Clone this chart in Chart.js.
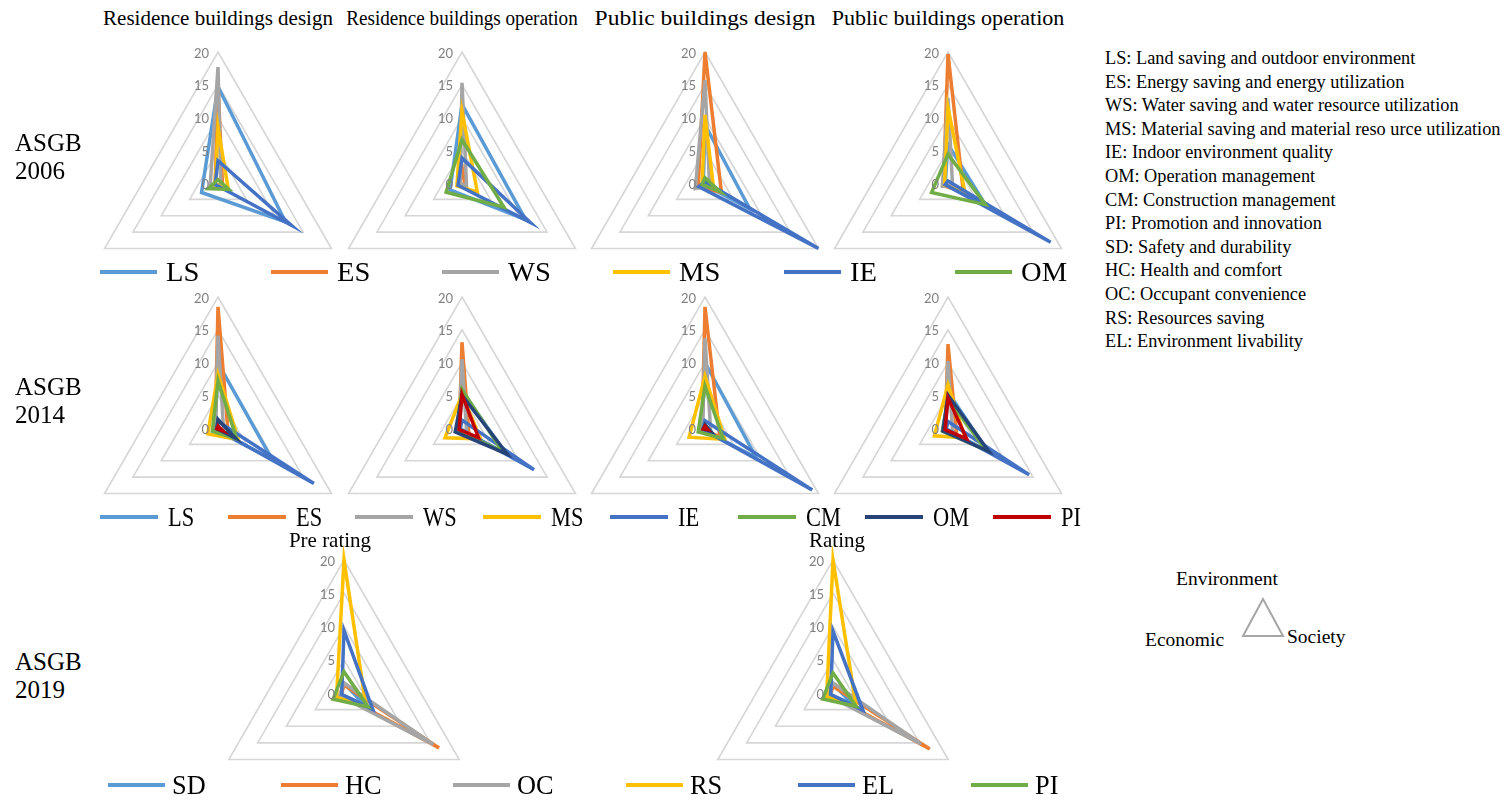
<!DOCTYPE html>
<html>
<head>
<meta charset="utf-8">
<script src="https://cdn.jsdelivr.net/npm/chart.js@4.4.1/dist/chart.umd.min.js"></script>
<style>
  html, body { margin: 0; padding: 0; background: #fff; }
  #stage { position: relative; width: 1511px; height: 806px; overflow: hidden; font-family: "Liberation Serif", "Times New Roman", serif; color: #000; }
  .abs { position: absolute; white-space: nowrap; }
  .title { font-size: 21px; }
  .year { font-size: 25px; line-height: 29px; }
  .key { font-size: 18.3px; line-height: 20px; }
  .orient { font-size: 19.5px; line-height: 20px; }
  .legLine { position: absolute; height: 4px; }
  .legText { position: absolute; font-size: 28px; line-height: 28px; transform-origin: left center; }
  canvas { position: absolute; }
</style>
</head>
<body>
<div id="stage"></div>
<script>
// ---------------- DATA ----------------
const axisLabels = ['Environment', 'Society', 'Economic'];
const tickValues = [0, 5, 10, 15, 20];

const series2006 = ['LS', 'ES', 'WS', 'MS', 'IE', 'OM'];
const series2014 = ['LS', 'ES', 'WS', 'MS', 'IE', 'CM', 'OM', 'PI'];
const series2019 = ['SD', 'HC', 'OC', 'RS', 'EL', 'PI'];

// values per series: [Environment, Society, Economic]
const residenceDesign2006    = [[14.7, 11.9, 2.9], [15, 0.8, 0.5], [17.7, 0.5, 1.4], [8.5, 1.8, 0.5], [3.4, 12.9, 0.5], [0.5, 1.9, 1.7]];
const residenceOperation2006 = [[12, 11.2, 2.1], [2.5, 0.5, 0.4], [15.3, 0.8, 0.3], [10.9, 2.7, 0.9], [3.8, 12, 0.7], [6.6, 7.4, 2.8]];
const publicDesign2006       = [[8.9, 7.9, 0.3], [20, 2.9, 1.2], [15.7, 0.8, 1.7], [10.4, 1.5, 0.5], [0.2, 20, 1.1], [0.8, 2.6, 0.5]];
const publicOperation2006    = [[5.9, 6.6, 0.5], [19.7, 2.7, 0.8], [13, 0.8, 1.0], [11.5, 3, 0.6], [0.3, 18.1, 0.5], [4.4, 6.6, 2.9]];

const residenceDesign2014    = [[9.9, 9.5, 0.5], [18.5, 1.8, 0.5], [14.1, 1, 0.5], [8.2, 3.6, 1.8], [1, 16.9, 0.3], [7.2, 3.3, 1.0], [1.3, 3, 0.2], [0.3, 0.8, 0.2]];
const residenceOperation2014 = [[5.6, 7.7, 0.5], [13.1, 1.2, 0.5], [10.5, 0.8, 0.5], [5.1, 3.3, 3], [1.2, 12.7, 0.3], [5.9, 7.1, 0.8], [5, 8, 1.2], [5.1, 2.9, 0.5]];
const publicDesign2014       = [[10, 9, 0.5], [18.5, 2.6, 0.5], [13.7, 1, 0.5], [7.9, 3.5, 2.8], [1.1, 18.9, 0.4], [6.4, 3.2, 1.2], [0.5, 1, 0.3], [0.3, 0.5, 0.3]];
const publicOperation2014    = [[5.5, 6.9, 0.5], [12.8, 1.5, 0.5], [10.2, 0.8, 0.5], [6.6, 3, 2.4], [1, 14.3, 0.3], [4.5, 6.6, 1], [5, 7.2, 0.9], [4.6, 3.3, 0.5]];

const preRating2019 = [[1.5, 3.5, 0.5], [1.2, 16.5, 0.5], [1.5, 15.5, 0.8], [20, 3.8, 1.3], [9.4, 5, 0.4], [3.2, 4.2, 1.9]];
const rating2019    = [[1.3, 3.5, 0.5], [1, 16.8, 0.5], [1.5, 15.3, 0.8], [20, 4, 1.1], [9.3, 5.2, 0.4], [3, 4, 1.8]];

const titles2006 = ['Residence buildings design', 'Residence buildings operation', 'Public buildings design', 'Public buildings operation'];
const titles2019 = ['Pre rating', 'Rating'];
const yearLabels = ['ASGB\n2006', 'ASGB\n2014', 'ASGB\n2019'];

const abbreviationKey = [
  'LS: Land saving and outdoor environment',
  'ES: Energy saving and energy utilization',
  'WS: Water saving and water resource utilization',
  'MS: Material saving and material reso urce utilization',
  'IE: Indoor environment quality',
  'OM: Operation management',
  'CM: Construction management',
  'PI: Promotion and innovation',
  'SD: Safety and durability',
  'HC: Health and comfort',
  'OC: Occupant convenience',
  'RS: Resources saving',
  'EL: Environment livability'
];

// ---------------- STYLES ----------------
const colors2006 = ['#5B9BD5', '#ED7D31', '#A5A5A5', '#FFC000', '#4472C4', '#70AD47'];
const colors2014 = ['#5B9BD5', '#ED7D31', '#A5A5A5', '#FFC000', '#4472C4', '#70AD47', '#264478', '#C00000'];
const colors2019 = ['#5B9BD5', '#ED7D31', '#A5A5A5', '#FFC000', '#4472C4', '#70AD47'];
const titleScale2006 = [1.0, 0.91, 1.12, 1.05];

const stage = document.getElementById('stage');

function addText(cls, text, left, top, extraStyle) {
  const d = document.createElement('div');
  d.className = 'abs ' + cls;
  d.textContent = text;
  d.style.left = left + 'px';
  d.style.top = top + 'px';
  if (extraStyle) Object.assign(d.style, extraStyle);
  stage.appendChild(d);
  return d;
}

const leftTickPlugin = {
  id: 'leftTicks',
  afterDraw(chart) {
    const s = chart.scales.r;
    const ctx = chart.ctx;
    ctx.save();
    ctx.font = '13px Lato';
    ctx.fillStyle = '#808080';
    ctx.textAlign = 'right';
    ctx.textBaseline = 'middle';
    s.ticks.forEach(t => {
      const d = s.getDistanceFromCenterForValue(t.value);
      ctx.fillText(String(t.value), s.xCenter - 9, s.yCenter - d + 1.5);
    });
    ctx.restore();
  }
};

function radar(cx, cy, r, names, values, colors) {
  const pad = 14;
  const size = 2 * r + 2 * pad;
  const c = document.createElement('canvas');
  c.width = size; c.height = size;
  c.style.left = (cx - r - pad) + 'px';
  c.style.top = (cy - r - pad) + 'px';
  stage.appendChild(c);
  const n = names.length;
  new Chart(c, {
    type: 'radar',
    data: {
      labels: axisLabels,
      datasets: names.map((nm, i) => ({
        label: nm,
        data: values[i],
        borderColor: colors[i],
        backgroundColor: 'rgba(0,0,0,0)',
        borderWidth: 3.5,
        pointRadius: 0,
        pointHoverRadius: 0,
        fill: false,
        tension: 0,
        clip: false,
        order: n - i,
        borderJoinStyle: 'miter'
      }))
    },
    options: {
      responsive: false,
      animation: false,
      devicePixelRatio: 1,
      layout: { padding: pad },
      plugins: { legend: { display: false }, tooltip: { enabled: false } },
      scales: {
        r: {
          min: tickValues[0],
          max: tickValues[tickValues.length - 1],
          ticks: { stepSize: tickValues[1] - tickValues[0], display: false },
          angleLines: { display: false },
          grid: { color: '#d6d6d6', lineWidth: 1.6 },
          pointLabels: { display: false }
        }
      }
    },
    plugins: [leftTickPlugin]
  });
}

function legendRow(names, colors, x0, step, y, lineW, gap, sx) {
  names.forEach((nm, i) => {
    const x = x0 + i * step;
    const l = document.createElement('div');
    l.className = 'legLine';
    l.style.left = x + 'px';
    l.style.top = (y - 2) + 'px';
    l.style.width = lineW + 'px';
    l.style.background = colors[i];
    stage.appendChild(l);
    const t = document.createElement('div');
    t.className = 'legText';
    t.textContent = nm;
    t.style.left = (x + lineW + gap) + 'px';
    t.style.top = (y - 14) + 'px';
    t.style.transform = 'scaleX(' + sx + ')';
    stage.appendChild(t);
  });
}

// ---------------- LAYOUT ----------------
const row1X = [218, 462, 705, 948];
titles2006.forEach((t, i) => addText('title', t, row1X[i], 6, { transform: 'translateX(-50%) scaleX(' + titleScale2006[i] + ')' }));

radar(row1X[0], 183, 131, series2006, residenceDesign2006, colors2006);
radar(row1X[1], 183, 131, series2006, residenceOperation2006, colors2006);
radar(row1X[2], 183, 131, series2006, publicDesign2006, colors2006);
radar(row1X[3], 183, 131, series2006, publicOperation2006, colors2006);

radar(row1X[0], 428, 131, series2014, residenceDesign2014, colors2014);
radar(row1X[1], 428, 131, series2014, residenceOperation2014, colors2014);
radar(row1X[2], 428, 131, series2014, publicDesign2014, colors2014);
radar(row1X[3], 428, 131, series2014, publicOperation2014, colors2014);

addText('title', titles2019[0], 330, 528, { transform: 'translateX(-50%)' });
addText('title', titles2019[1], 837, 528, { transform: 'translateX(-50%)' });
radar(344, 693, 133, series2019, preRating2019, colors2019);
radar(833, 693, 133, series2019, rating2019, colors2019);

legendRow(series2006, colors2006, 100, 171, 272, 57, 9, 1.02);
legendRow(series2014, colors2014, 100, 127.5, 517, 58, 10, 0.8);
legendRow(series2019, colors2019, 108, 172.6, 785, 57, 7, 0.94);

const yearTops = [128, 372, 647];
yearLabels.forEach((y, i) => {
  const parts = y.split('\n');
  addText('year', parts[0], 15, yearTops[i]);
  addText('year', parts[1], 15, yearTops[i] + 28);
});

abbreviationKey.forEach((t, i) => addText('key', t, 1105, 48 + i * 23.6));

// small orientation key
addText('orient', 'Environment', 1176, 569);
addText('orient', 'Economic', 1145, 630);
addText('orient', 'Society', 1287, 627);
const svgNS = 'http://www.w3.org/2000/svg';
const svg = document.createElementNS(svgNS, 'svg');
svg.setAttribute('width', '60'); svg.setAttribute('height', '50');
svg.style.position = 'absolute'; svg.style.left = '1233px'; svg.style.top = '593px';
const poly = document.createElementNS(svgNS, 'polygon');
poly.setAttribute('points', '30,6 10,43 50,43');
poly.setAttribute('fill', 'none'); poly.setAttribute('stroke', '#a6a6a6'); poly.setAttribute('stroke-width', '2');
svg.appendChild(poly);
stage.appendChild(svg);
</script>
</body>
</html>
